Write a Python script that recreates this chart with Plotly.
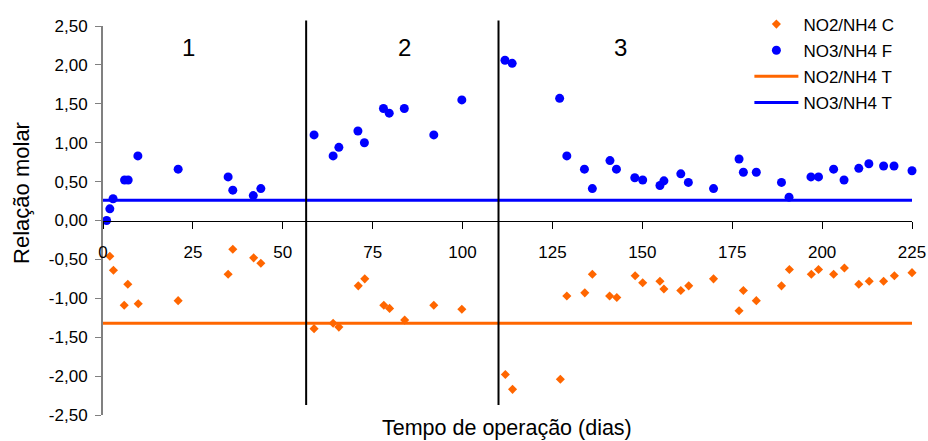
import plotly.graph_objects as go

# NO3/NH4 measured ratio (F)
no3_days = [1, 1.9, 2.8, 6, 7, 9.7, 20.9, 34.8, 36.1, 41.8, 43.9,
            58.7, 64, 65.6, 70.9, 72.7, 78, 79.6, 83.8, 92, 99.8,
            111.8, 113.8, 127, 129, 133.9, 136.1, 141, 142.8, 147.9, 150.1,
            154.9, 156, 160.7, 162.8, 169.8, 176.9, 178.1, 181.7, 188.7, 190.8,
            196.9, 199, 203.2, 206.1, 210.2, 213, 217.1, 220, 225]
no3_vals = [0.00, 0.15, 0.28, 0.52, 0.52, 0.83, 0.66, 0.56, 0.39, 0.32, 0.41,
            1.10, 0.83, 0.94, 1.15, 1.00, 1.44, 1.38, 1.44, 1.10, 1.55,
            2.06, 2.02, 1.57, 0.83, 0.66, 0.41, 0.77, 0.66, 0.55, 0.52,
            0.45, 0.51, 0.60, 0.49, 0.41, 0.79, 0.62, 0.62, 0.49, 0.30,
            0.56, 0.56, 0.66, 0.52, 0.67, 0.73, 0.70, 0.70, 0.64]

# NO2/NH4 consumption ratio (C)
no2_days = [1.9, 2.9, 5.9, 6.9, 9.8, 20.9, 34.8, 36.1, 41.9, 43.9,
            58.7, 64, 65.6, 71, 72.8, 78.1, 79.7, 83.9, 92, 99.8,
            111.9, 113.9, 127.2, 129, 134, 136.1, 140.9, 142.9, 148, 150.1,
            154.9, 156, 160.7, 162.9, 169.8, 176.9, 178.1, 181.7, 188.7, 190.9,
            197, 199, 203.2, 206.2, 210.2, 213.1, 217.1, 220.1, 225]
no2_vals = [-0.46, -0.64, -1.09, -0.82, -1.07, -1.03, -0.69, -0.37, -0.48, -0.55,
            -1.39, -1.32, -1.37, -0.84, -0.75, -1.09, -1.13, -1.28, -1.09, -1.14,
            -1.98, -2.17, -2.04, -0.97, -0.93, -0.69, -0.97, -0.99, -0.71, -0.80,
            -0.78, -0.88, -0.90, -0.84, -0.75, -1.16, -0.90, -1.03, -0.84, -0.63,
            -0.69, -0.63, -0.69, -0.61, -0.82, -0.78, -0.78, -0.71, -0.67]

# Theoretical (stoichiometric) ratios
theory_days = [0, 225]
no2_theory = -1.32
no3_theory = 0.26

# Operating phases
phase_boundaries = [56.5, 110]
phase_names = ["1", "2", "3"]
phase_label_x = [23.8, 83.9, 144]
phase_label_y = 2.23

y_ticks = [2.5, 2.0, 1.5, 1.0, 0.5, 0.0, -0.5, -1.0, -1.5, -2.0, -2.5]
y_tick_text = ["2,50", "2,00", "1,50", "1,00", "0,50", "0,00",
               "-0,50", "-1,00", "-1,50", "-2,00", "-2,50"]

ORANGE = "#FF6600"
BLUE = "#0000FF"
FONT = "Liberation Sans, Arial, sans-serif"

fig = go.Figure()

fig.add_trace(go.Scatter(
    x=theory_days, y=[no2_theory] * len(theory_days), mode="lines",
    name="NO2/NH4 T", line=dict(color=ORANGE, width=3),
    legendrank=3, legendgroup="c", cliponaxis=False))
fig.add_trace(go.Scatter(
    x=theory_days, y=[no3_theory] * len(theory_days), mode="lines",
    name="NO3/NH4 T", line=dict(color=BLUE, width=3),
    legendrank=4, legendgroup="d", cliponaxis=False))
fig.add_trace(go.Scatter(
    x=no2_days, y=no2_vals, mode="markers", name="NO2/NH4 C",
    marker=dict(symbol="diamond", size=7, color=ORANGE),
    legendrank=1, legendgroup="a", cliponaxis=False))
fig.add_trace(go.Scatter(
    x=no3_days, y=no3_vals, mode="markers", name="NO3/NH4 F",
    marker=dict(symbol="circle", size=9, color=BLUE),
    legendrank=2, legendgroup="b", cliponaxis=False))

for xb in phase_boundaries:
    fig.add_shape(type="line", xref="x", yref="paper",
                  x0=xb, x1=xb, y0=0.026, y1=1.014,
                  line=dict(color="black", width=2))

for name, px in zip(phase_names, phase_label_x):
    fig.add_annotation(x=px, y=phase_label_y, xref="x", yref="y",
                       text=name, showarrow=False,
                       font=dict(size=24, color="black", family=FONT))

fig.add_annotation(x=0.4994, y=-0.0335, xref="paper", yref="paper",
                   text="Tempo de operação (dias)", showarrow=False,
                   xanchor="center", yanchor="middle",
                   font=dict(size=21.5, color="black", family=FONT))
fig.add_annotation(x=-0.1001, y=0.571, xref="paper", yref="paper",
                   text="Relação molar", showarrow=False, textangle=-90,
                   xanchor="center", yanchor="middle",
                   font=dict(size=22, color="black", family=FONT))

fig.update_layout(
    width=928, height=441,
    margin=dict(l=103, r=16, t=26, b=26, autoexpand=False),
    paper_bgcolor="white", plot_bgcolor="white",
    font=dict(family=FONT, size=17, color="black"),
    showlegend=True,
    legend=dict(x=0.799, y=1.05, xanchor="left", yanchor="top",
                bgcolor="rgba(0,0,0,0)", borderwidth=0,
                tracegroupgap=1, itemwidth=44,
                font=dict(size=17, family=FONT)),
    xaxis=dict(range=[0, 225], dtick=25, tick0=0,
               anchor="free", position=0.5, automargin=False,
               showline=True, linecolor="black", linewidth=1,
               ticks="outside", ticklen=7, tickcolor="black",
               showgrid=False, zeroline=False,
               ticklabelstandoff=9,
               tickfont=dict(size=17, family=FONT)),
    yaxis=dict(range=[-2.5, 2.5], tickvals=y_ticks, ticktext=y_tick_text,
               automargin=False,
               showline=True, linecolor="#808080", linewidth=2,
               ticks="outside", ticklen=6, tickcolor="#808080",
               showgrid=False, zeroline=False,
               ticklabelstandoff=4,
               tickfont=dict(size=17, family=FONT)),
)

fig.write_html("out.html")
